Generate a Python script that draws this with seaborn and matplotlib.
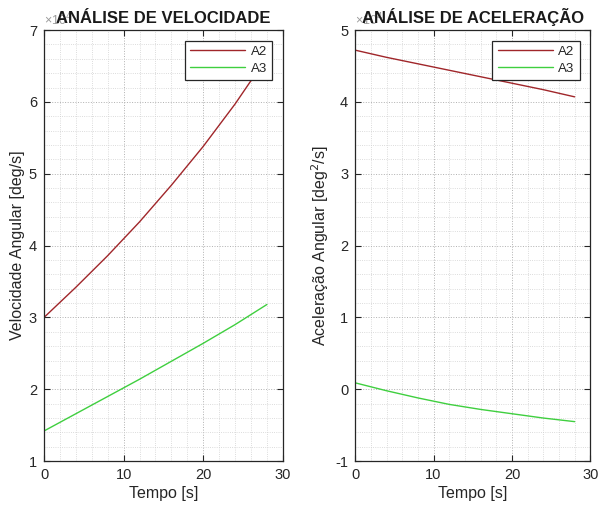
import numpy as np
import pandas as pd
import matplotlib
matplotlib.use("Agg")
import matplotlib.pyplot as plt
import seaborn as sns
from matplotlib.ticker import MultipleLocator

# ---- data ----
tempo = [0, 4, 8, 12, 16, 20, 24, 28]
vel_a2 = [3.00, 3.42, 3.86, 4.33, 4.84, 5.38, 5.97, 6.62]
vel_a3 = [1.42, 1.66, 1.90, 2.14, 2.39, 2.64, 2.90, 3.18]
acc_a2 = [4.72, 4.62, 4.53, 4.44, 4.35, 4.26, 4.17, 4.07]
acc_a3 = [0.09, -0.02, -0.12, -0.21, -0.28, -0.34, -0.40, -0.45]
series_names = ["A2", "A3"]
titles = ["ANÁLISE DE VELOCIDADE", "ANÁLISE DE ACELERAÇÃO"]
ylabels = ["Velocidade Angular [deg/s]", "Aceleração Angular [deg$^2$/s]"]
xlabel = "Tempo [s]"
xlims = (0, 30)
ylims = [(1, 7), (-1, 5)]

sns.set_theme(style="white")
plt.rcParams["font.family"] = ["Liberation Sans", "DejaVu Sans"]
plt.rcParams["axes.unicode_minus"] = False

palette = {"A2": "#a0262a", "A3": "#3fcf3f"}
dark = "#262626"

fig = plt.figure(figsize=(6.03, 5.09), dpi=100)
ax1 = fig.add_axes([0.073, 0.094, 0.396, 0.847])
ax2 = fig.add_axes([0.589, 0.094, 0.390, 0.847])

datasets = [(vel_a2, vel_a3), (acc_a2, acc_a3)]
for i, (ax, (a2, a3)) in enumerate(zip([ax1, ax2], datasets)):
    df = pd.DataFrame({
        "Tempo": tempo * 2,
        "valor": list(a2) + list(a3),
        "serie": [series_names[0]] * len(tempo) + [series_names[1]] * len(tempo),
    })
    sns.lineplot(data=df, x="Tempo", y="valor", hue="serie", palette=palette,
                 ax=ax, linewidth=1.0, legend=True)
    ax.set_xlim(*xlims)
    ax.set_ylim(*ylims[i])
    ax.xaxis.set_major_locator(MultipleLocator(10))
    ax.xaxis.set_minor_locator(MultipleLocator(2))
    ax.yaxis.set_major_locator(MultipleLocator(1))
    ax.yaxis.set_minor_locator(MultipleLocator(0.2))
    ax.grid(which="major", linestyle=":", color="#b0b0b0", linewidth=0.7)
    ax.grid(which="minor", linestyle=":", color="#d0d0d0", linewidth=0.6)
    ax.set_axisbelow(True)
    ax.tick_params(which="major", direction="in", length=4, width=0.8,
                   top=True, right=True, bottom=True, left=True,
                   labelsize=10.5, colors=dark, pad=5)
    ax.tick_params(which="minor", length=0)
    for s in ax.spines.values():
        s.set_visible(True)
        s.set_color(dark)
        s.set_linewidth(0.9)
    ax.set_xlabel(xlabel, fontsize=11.5, color=dark, labelpad=3)
    ax.set_ylabel(ylabels[i], fontsize=11.5, color=dark, labelpad=3)
    ax.text(0.0, 1.005, "×10$^{4}$", transform=ax.transAxes, fontsize=9,
            color="#9a9a9a", ha="left", va="bottom", zorder=1)
    ax.set_title(titles[i], fontsize=12, fontweight="bold", color="#1a1a1a", pad=5)
    leg = ax.legend(loc="upper right", fontsize=9.5, frameon=True, fancybox=False,
                    edgecolor=dark, framealpha=1, handlelength=4.2,
                    borderaxespad=0.8, borderpad=0.4, labelspacing=0.35,
                    handletextpad=0.4)
    leg.get_frame().set_linewidth(0.9)
    for t in leg.get_texts():
        t.set_color(dark)

fig.savefig("out.png", dpi=100)
